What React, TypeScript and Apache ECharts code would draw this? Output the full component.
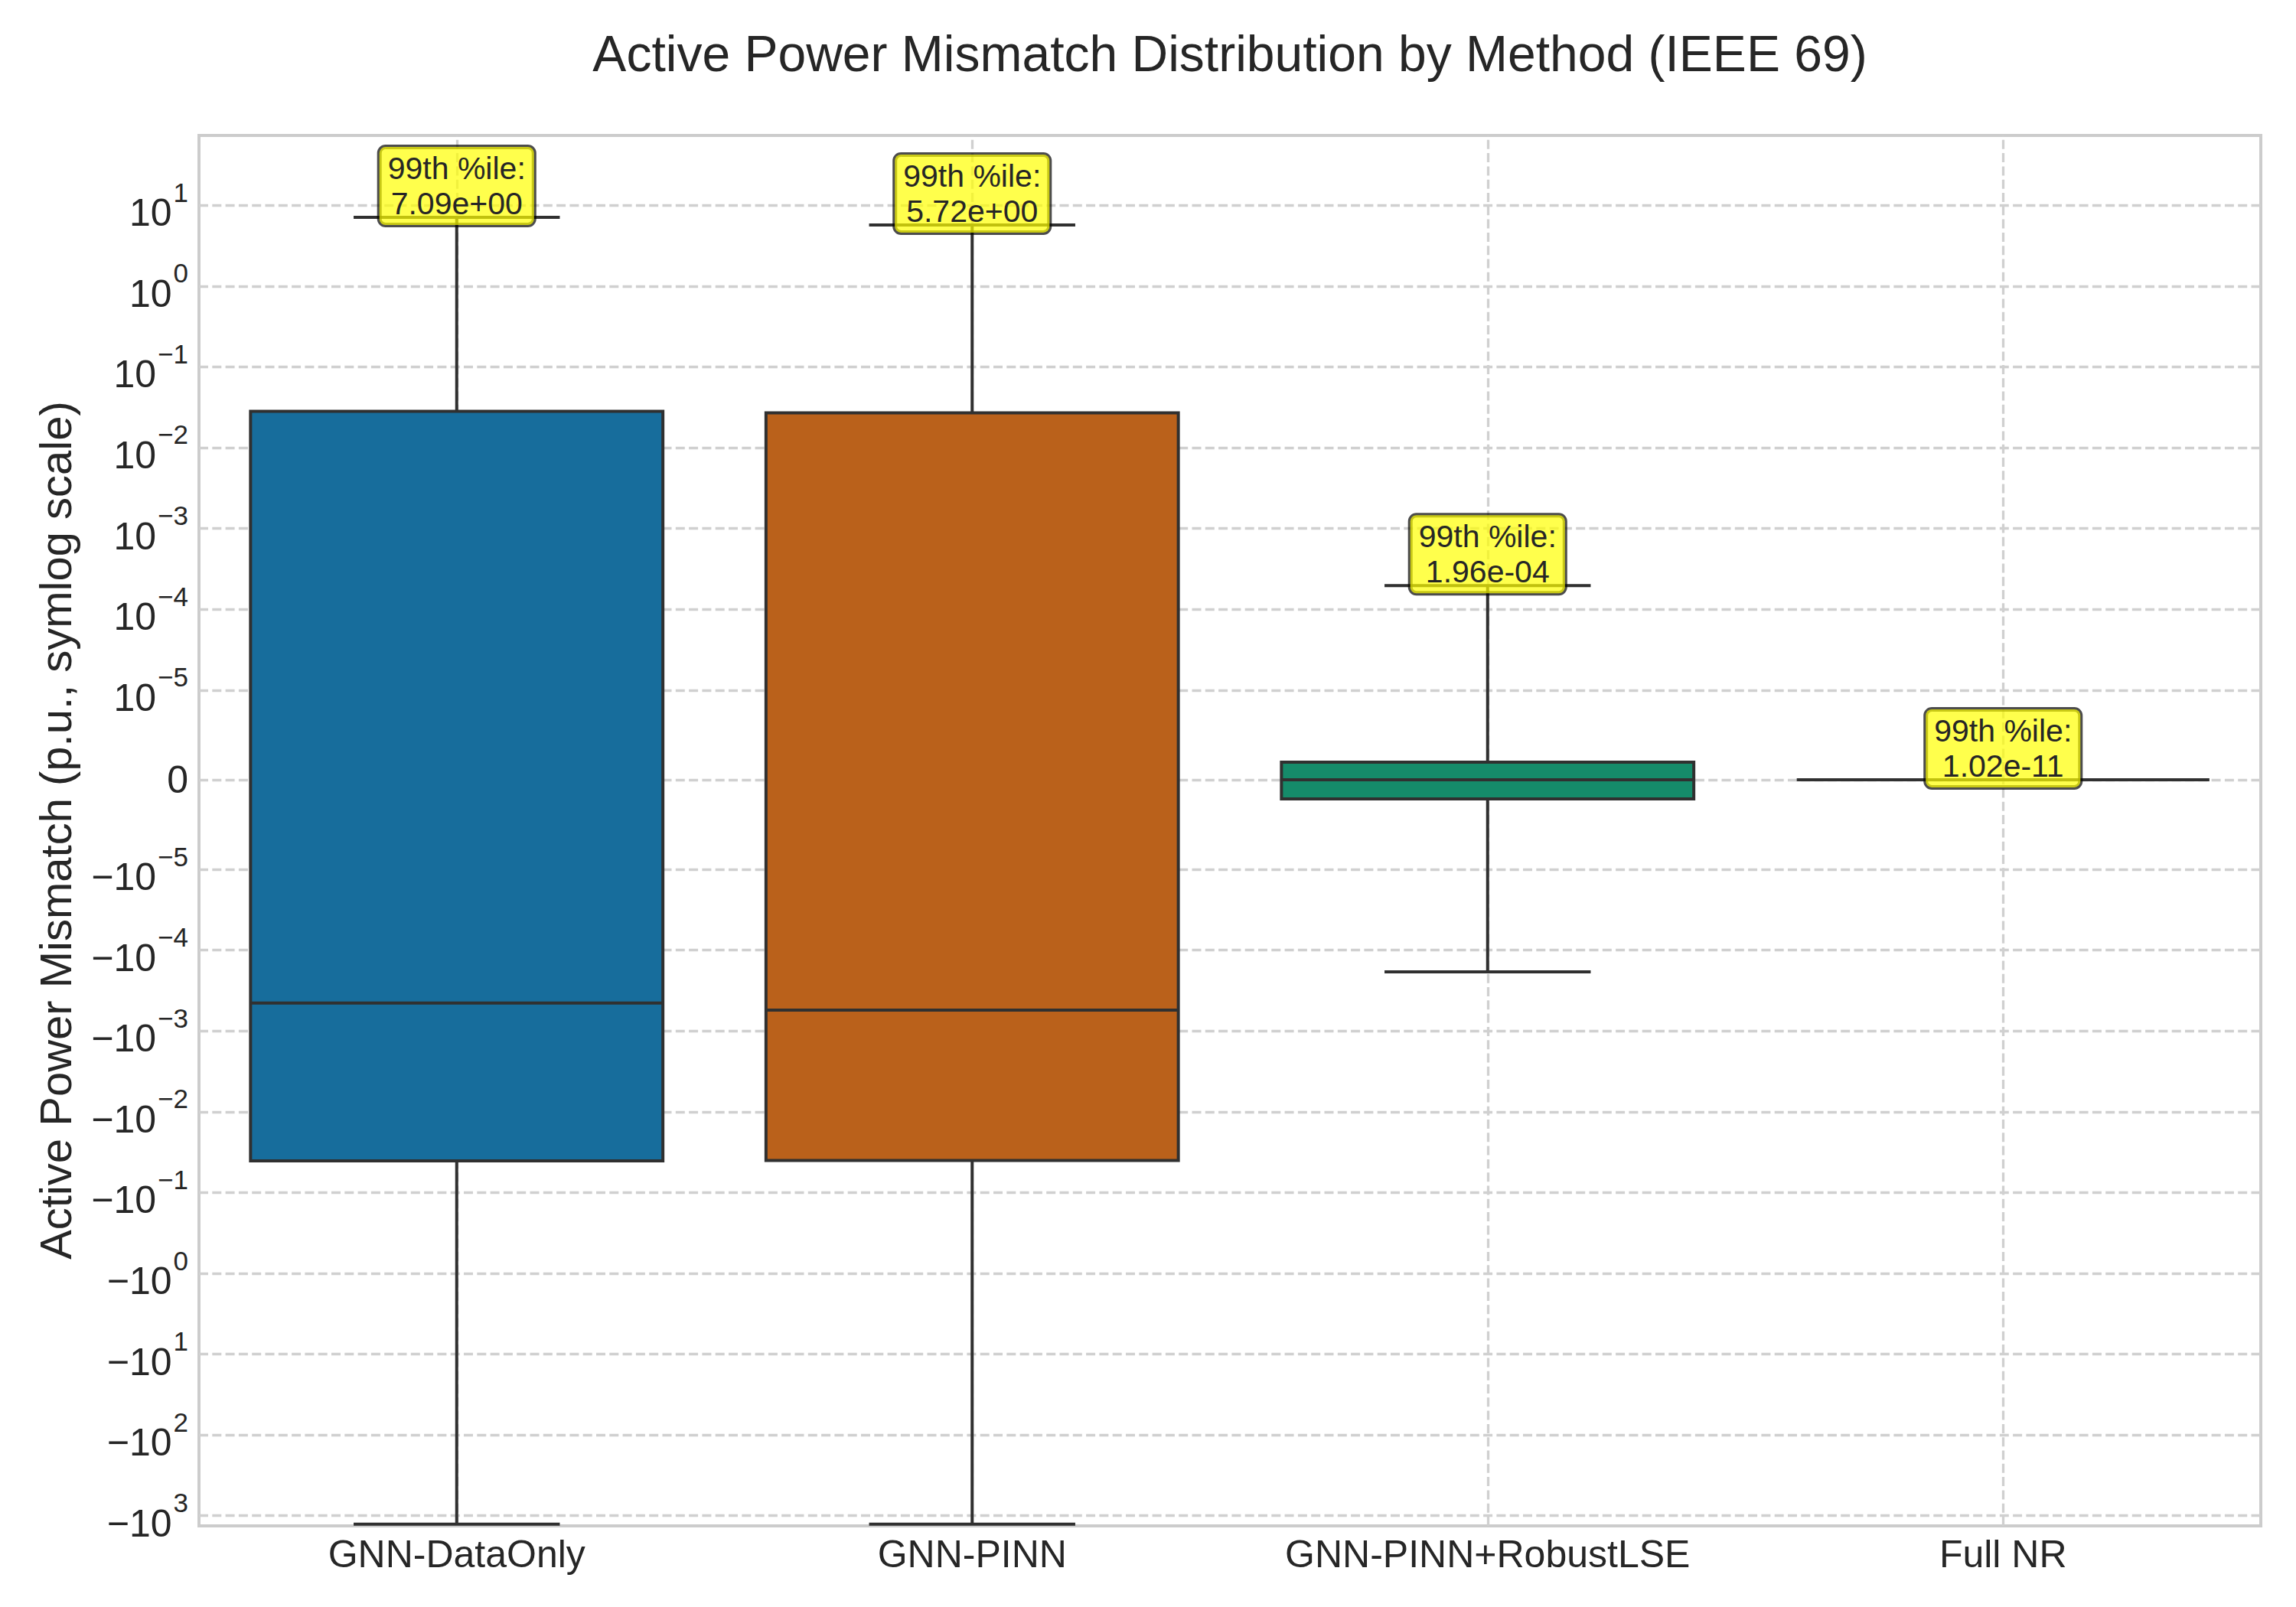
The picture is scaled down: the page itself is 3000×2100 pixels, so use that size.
import React, { useEffect, useRef } from "react";
import * as echarts from "echarts";

// ---- data (raw values, p.u.) ----
const categories = ["GNN-DataOnly", "GNN-PINN", "GNN-PINN+RobustLSE", "Full NR"];
const whiskerLow = [-1270, -1270, -1.85e-4, -1.0e-11];
const q1Values = [-0.0405, -0.04, -2.13e-6, -1e-12];
const medianValues = [-4.49e-4, -5.5e-4, 0, 0];
const q3Values = [0.0282, 0.027, 1.96e-6, 1e-12];
const whiskerHigh = [7.09, 5.72, 1.96e-4, 1.02e-11];
const p99Values = [7.09, 5.72, 1.96e-4, 1.02e-11];
const boxColors = ["#176d9c", "#ba611b", "#158b6a", "#b8729f"];
const yTickValues = [
  -1e3, -1e2, -1e1, -1e0, -1e-1, -1e-2, -1e-3, -1e-4, -1e-5, 0,
  1e-5, 1e-4, 1e-3, 1e-2, 1e-1, 1e0, 1e1,
];
const yLimits = [-1337, 73.3];
const LINTHRESH = 1e-5;

const TITLE = "Active Power Mismatch Distribution by Method (IEEE 69)";
const Y_NAME = "Active Power Mismatch (p.u., symlog scale)";
const FONT = "'Liberation Sans', Arial, sans-serif";
const EDGE = "#303030";
const TEXT = "#262626";

// matplotlib-style symlog transform (base 10, linscale 1)
const LINSCALE_ADJ = 1 / (1 - 1 / 10);
function symlog(v: number): number {
  const a = Math.abs(v);
  if (a <= LINTHRESH) return (v / LINTHRESH) * LINSCALE_ADJ;
  return Math.sign(v) * (LINSCALE_ADJ + Math.log10(a / LINTHRESH));
}

function fmtExp(v: number): string {
  const [m, e] = v.toExponential(2).split("e");
  const sign = e[0] === "-" ? "-" : "+";
  const digits = e.replace(/^[+-]/, "").padStart(2, "0");
  return `${m}e${sign}${digits}`;
}

function tickLabel(v: number): string {
  if (v === 0) return "{z|0}";
  const exp = Math.round(Math.log10(Math.abs(v)));
  const base = v < 0 ? "\u221210" : "10";
  const e = exp < 0 ? `\u2212${-exp}` : `${exp}`;
  return `{m|${base}}{s|${e}}`;
}

export default function App() {
  const ref = useRef<HTMLDivElement>(null);
  useEffect(() => {
    if (!ref.current) return;
    const chart = echarts.init(ref.current, null, { renderer: "svg" });
    const tickT = yTickValues.map(symlog);
    const boxData = categories.map((_, i) => [
      i,
      symlog(whiskerLow[i]),
      symlog(q1Values[i]),
      symlog(medianValues[i]),
      symlog(q3Values[i]),
      symlog(whiskerHigh[i]),
    ]);

    const gridStyle = { color: "#d0d0d0", width: 3.3, type: [12, 5.3] as any };

    const option: any = {
      animation: false,
      backgroundColor: "#ffffff",
      grid: {
        left: 260,
        right: 46,
        top: 177,
        bottom: 106,
        show: true,
        borderColor: "#cccccc",
        borderWidth: 4,
        backgroundColor: "transparent",
      },
      graphic: [
        {
          type: "text",
          x: 1607,
          y: 70,
          style: {
            text: TITLE,
            fill: TEXT,
            font: `66px ${FONT}`,
            align: "center",
            verticalAlign: "middle",
          },
        },
        {
          type: "text",
          x: 72,
          y: 1085,
          rotation: Math.PI / 2,
          style: {
            text: Y_NAME,
            fill: TEXT,
            font: `58px ${FONT}`,
            align: "center",
            verticalAlign: "middle",
          },
        },
      ],
      xAxis: {
        type: "category",
        data: categories,
        axisLine: { show: false },
        axisTick: { show: false },
        splitLine: { show: false },
        axisLabel: {
          interval: 0,
          color: TEXT,
          fontSize: 50,
          fontFamily: FONT,
          margin: 12,
        },
      },
      yAxis: {
        type: "value",
        min: symlog(yLimits[0]),
        max: symlog(yLimits[1]),
        axisLine: { show: false },
        axisTick: { show: false },
        splitLine: { show: false },
        axisLabel: {
          customValues: tickT,
          margin: 14,
          color: TEXT,
          fontFamily: FONT,
          formatter: (val: number) => {
            let best = 0;
            let bd = Infinity;
            tickT.forEach((t, i) => {
              const d = Math.abs(t - val);
              if (d < bd) {
                bd = d;
                best = i;
              }
            });
            return tickLabel(yTickValues[best]);
          },
          rich: {
            m: {
              fontSize: 50,
              fontFamily: FONT,
              color: TEXT,
              lineHeight: 50,
              padding: [20, 0, 0, 0],
            },
            s: {
              fontSize: 35,
              fontFamily: FONT,
              color: TEXT,
              lineHeight: 35,
              padding: [0, 0, 34, 2],
            },
            z: {
              fontSize: 50,
              fontFamily: FONT,
              color: TEXT,
              lineHeight: 50,
            },
          },
        },
      },
      series: [
        {
          type: "line",
          data: [],
          silent: true,
          markLine: {
            silent: true,
            z: 1,
            symbol: ["none", "none"],
            label: { show: false },
            lineStyle: gridStyle,
            emphasis: { disabled: true },
            data: [
              ...tickT.map((t) => ({ yAxis: t })),
              ...categories.map((c) => ({ xAxis: c })),
            ],
          },
        },
        {
          type: "custom",
          z: 10,
          silent: true,
          data: boxData,
          encode: { x: 0, y: [1, 2, 3, 4, 5] },
          renderItem: (params: any, api: any) => {
            const idx = api.value(0);
            const c = (v: number) => api.coord([idx, v]);
            const pLo = c(api.value(1));
            const pQ1 = c(api.value(2));
            const pMed = c(api.value(3));
            const pQ3 = c(api.value(4));
            const pHi = c(api.value(5));
            const band = api.size([1, 0])[0];
            const bw = band * 0.8;
            const cw = bw / 2;
            const cx = pMed[0];
            const ls = { stroke: EDGE, lineWidth: 4 };
            const i = params.dataIndex;
            return {
              type: "group",
              children: [
                { type: "line", shape: { x1: cx, y1: pQ3[1], x2: cx, y2: pHi[1] }, style: ls },
                { type: "line", shape: { x1: cx, y1: pQ1[1], x2: cx, y2: pLo[1] }, style: ls },
                { type: "line", shape: { x1: cx - cw / 2, y1: pHi[1], x2: cx + cw / 2, y2: pHi[1] }, style: ls },
                { type: "line", shape: { x1: cx - cw / 2, y1: pLo[1], x2: cx + cw / 2, y2: pLo[1] }, style: ls },
                {
                  type: "rect",
                  shape: { x: cx - bw / 2, y: pQ3[1], width: bw, height: pQ1[1] - pQ3[1] },
                  style: { fill: boxColors[i], stroke: EDGE, lineWidth: 4 },
                },
                { type: "line", shape: { x1: cx - bw / 2, y1: pMed[1], x2: cx + bw / 2, y2: pMed[1] }, style: ls },
                {
                  type: "text",
                  x: cx,
                  y: pHi[1] + 10,
                  z2: 20,
                  style: {
                    text: `99th %ile:\n${fmtExp(p99Values[i])}`,
                    fill: TEXT,
                    font: `41px ${FONT}`,
                    lineHeight: 46,
                    align: "center",
                    verticalAlign: "bottom",
                    backgroundColor: "rgba(255,255,0,0.7)",
                    borderColor: "rgba(0,0,0,0.7)",
                    borderWidth: 3,
                    borderRadius: 8,
                    padding: [5, 11],
                  },
                },
              ],
            };
          },
        },
      ],
    };
    chart.setOption(option);
    return () => chart.dispose();
  }, []);
  return (
    <div
      ref={ref}
      style={{ position: "absolute", left: 0, top: 0, width: 3000, height: 2100 }}
    />
  );
}
